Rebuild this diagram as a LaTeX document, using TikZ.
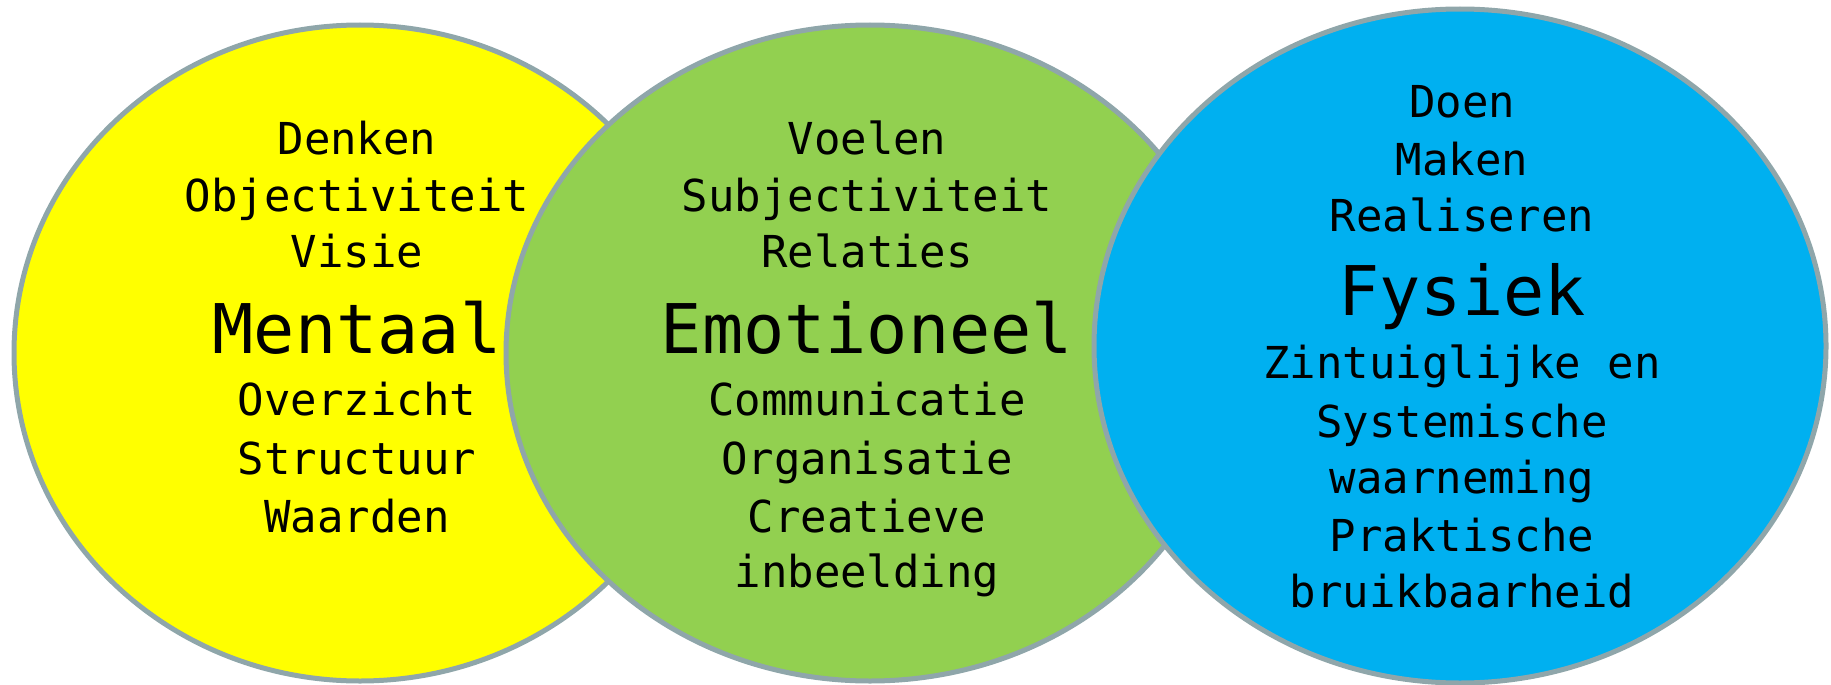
\documentclass[tikz,border=0pt]{standalone}
\usepackage{fontspec}
\newfontfamily\monofam{DejaVu Sans Mono}
\definecolor{ringgray}{RGB}{143,166,170}
\definecolor{cyellow}{RGB}{255,255,0}
\definecolor{cgreen}{RGB}{146,208,80}
\definecolor{cblue}{RGB}{0,176,240}
\tikzset{
  ring/.style={draw=ringgray, line width=5pt},
  small/.style={anchor=base, inner sep=0pt, font=\monofam\fontsize{44}{50}\selectfont},
  big/.style={anchor=base, inner sep=0pt, font=\monofam\fontsize{68.5}{75}\selectfont}
}
\begin{document}
\begin{tikzpicture}[x=1pt,y=-1pt]
\useasboundingbox (0,0) rectangle (1831,685);
% ellipses
\fill[cyellow] (360,353) ellipse [x radius=346pt, y radius=328pt];
\draw[ring] (360,353) ellipse [x radius=346pt, y radius=328pt];
\fill[cgreen] (870,353) ellipse [x radius=364pt, y radius=328pt];
\draw[ring] (870,353) ellipse [x radius=364pt, y radius=328pt];
\fill[cblue] (1460,346) ellipse [x radius=366pt, y radius=337pt];
\draw[ring] (1460,346) ellipse [x radius=366pt, y radius=337pt];
% mental
\node[small] (m1) at (357,154) {Denken};
\node[small] (m2) at (357,211) {Objectiviteit};
\node[small] (m3) at (357,267) {Visie};
\node[big]   (m4) at (357,353) {Mentaal};
\node[small] (m5) at (357,415) {Overzicht};
\node[small] (m6) at (357,474) {Structuur};
\node[small] (m7) at (357,532) {Waarden};
% emotional
\node[small] (e1) at (867,154) {Voelen};
\node[small] (e2) at (867,211) {Subjectiviteit};
\node[small] (e3) at (867,267) {Relaties};
\node[big]   (e4) at (867,353) {Emotioneel};
\node[small] (e5) at (867,415) {Communicatie};
\node[small] (e6) at (867,474) {Organisatie};
\node[small] (e7) at (867,532) {Creatieve};
\node[small] (e8) at (867,587) {inbeelding};
% physical
\node[small] (f1) at (1462,117) {Doen};
\node[small] (f2) at (1462,175) {Maken};
\node[small] (f3) at (1462,231) {Realiseren};
\node[big]   (f4) at (1462,315) {Fysiek};
\node[small] (f5) at (1462,378) {Zintuiglijke en};
\node[small] (f6) at (1462,437) {Systemische};
\node[small] (f7) at (1462,493) {waarneming};
\node[small] (f8) at (1462,551) {Praktische};
\node[small] (f9) at (1462,607) {bruikbaarheid};
\end{tikzpicture}
\end{document}
